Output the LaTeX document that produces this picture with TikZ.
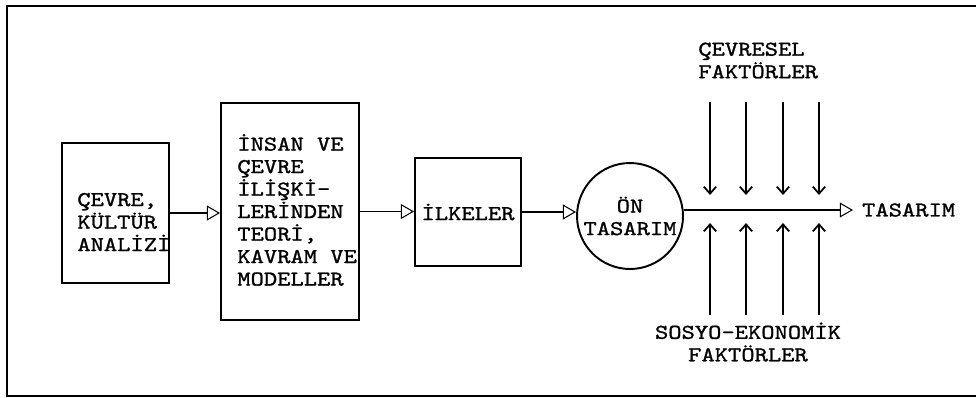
\documentclass[tikz,border=0pt]{standalone}
\usepackage{fontspec}
\newfontfamily\daktilo{lmmono10-regular}[Extension=.otf, FakeStretch=1.2, FakeBold=1.2]
\usetikzlibrary{arrows.meta, positioning}

\begin{document}
\begin{tikzpicture}[x=0.02cm, y=-0.02cm,
    kutu/.style={draw, line width=1.1pt, inner sep=0pt},
    yazi/.style={inner sep=0pt, font=\daktilo\fontsize{12}{12.8}\selectfont},
    akis/.style={line width=0.6pt, -{Triangle[open, length=7.5pt, width=8.5pt]}},
    etki/.style={line width=1pt, -{Straight Barb[length=4pt, width=7pt]}}]
    \useasboundingbox (0,0) rectangle (976,397);
    \draw[line width=1.6pt] (976,6) -- (7,6) -- (7,396) -- (976,396);

    % kutular
    \node[kutu, minimum width=2.14cm, minimum height=2.8cm] (analiz) at (115.5,213) {};
    \node[yazi, align=left, anchor=west] (analizYazi) at (77,222) {ÇEVRE,\\KÜLTÜR\\ANALİZİ};
    \node[kutu, minimum width=2.76cm, minimum height=4.34cm] (teori) at (290,211.5) {};
    \node[yazi, align=left, anchor=west] (teoriYazi) at (237,210) {İNSAN VE\\ÇEVRE\\İLİŞKİ-\\LERİNDEN\\TEORİ,\\KAVRAM VE\\MODELLER};
    \node[kutu, yazi, minimum width=2.12cm, minimum height=2.16cm] (ilke) at (468,212) {İLKELER};
    \node[kutu, yazi, circle, align=center, minimum size=2.12cm] (onTasarim) at (630,216) {ÖN\\TASARIM};
    \node[yazi, anchor=west, inner xsep=5pt] (sonuc) at (853,210) {TASARIM};

    % faktorler
    \node[yazi, align=left, anchor=west] (cevresel) at (698,60.5) {ÇEVRESEL\\FAKTÖRLER};
    \node[yazi, align=center] (sosyo) at (748,342) {SOSYO-EKONOMİK\\FAKTÖRLER};

    % oklar
    \draw[akis] (analiz.east) -- (analiz.east -| teori.west);
    \draw[akis] (teori.east) -- (teori.east -| ilke.west);
    \draw[akis] (ilke.east) -- (ilke.east -| onTasarim.west);
    \draw[akis] (onTasarim.east |- sonuc.west) -- (sonuc.west);
    \foreach \x [count=\i] in {710,746,783,819} {
        \coordinate (ust\i) at (\x,102);
        \coordinate (ustUc\i) at (\x,195);
        \coordinate (alt\i) at (\x,315);
        \coordinate (altUc\i) at (\x,223);
        \draw[etki] (ust\i) -- (ustUc\i);
        \draw[etki] (alt\i) -- (altUc\i);
    }
\end{tikzpicture}
\end{document}
